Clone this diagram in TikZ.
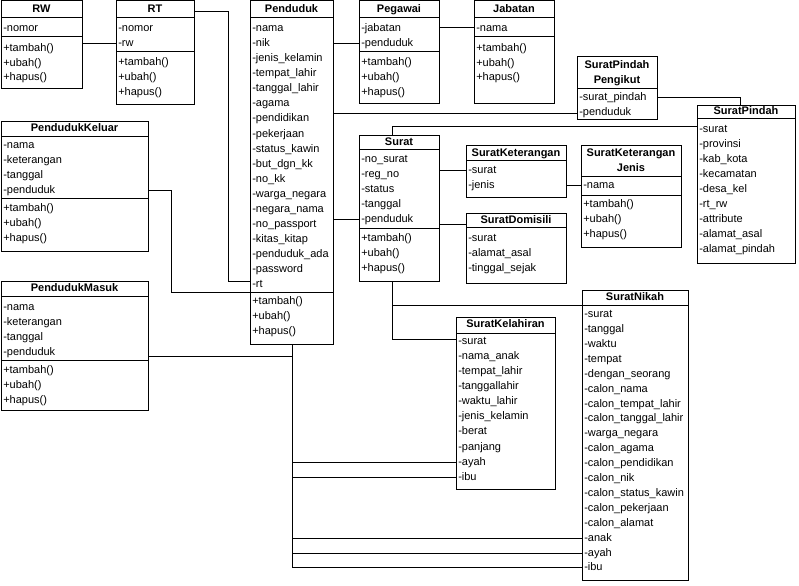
\documentclass[tikz,border=0pt]{standalone}
\usepackage{fontspec}
\setmainfont{Liberation Sans}
\usetikzlibrary{fit}
\tikzset{
  box/.style={draw, line width=0.75pt, inner sep=0pt, fill=white},
  attr/.style={anchor=west, inner sep=0pt, yshift=-0.75pt, text height=6pt, text depth=2pt, font=\fontsize{8.25}{9}\selectfont},
  ttl/.style={inner sep=0pt, yshift=-0.5pt, text height=6pt, text depth=2pt, font=\fontsize{8.25}{9}\selectfont\bfseries},
  sepline/.style={line width=0.75pt},
  conn/.style={line width=0.75pt},
}
\newcommand\umlrows[4]{\foreach \t [count=\i from 0] in {#4}{\node[attr] at (#1,{#2+#3*\i}) {\t};}}
\begin{document}
\begin{tikzpicture}[x=0.75pt,y=-0.75pt]
\useasboundingbox (0,0) rectangle (799,585);
\fill[white] (0,0) rectangle (799,585);

% ---------- boxes ----------
\node[box, fit={(1,1)(82,89)}] (rw) {};
\node[box, fit={(116,1)(194,104)}] (rt) {};
\node[box, fit={(250,1)(333,344)}] (pend) {};
\node[box, fit={(359,1)(439,103)}] (peg) {};
\node[box, fit={(474,1)(554,103)}] (jab) {};
\node[box, fit={(577,57)(657,119)}] (spp) {};
\node[box, fit={(697,105)(795,263)}] (sp) {};
\node[box, fit={(1,121)(148,251)}] (pk) {};
\node[box, fit={(1,281)(148,410)}] (pm) {};
\node[box, fit={(359,135)(439,281)}] (surat) {};
\node[box, fit={(466,145)(566,197)}] (sk) {};
\node[box, fit={(581,145)(681,247)}] (skj) {};
\node[box, fit={(466,213)(566,283)}] (sd) {};
\node[box, fit={(456,317)(555,489)}] (skl) {};
\node[box, fit={(582,290)(688,580)}] (sn) {};

% ---------- separators ----------
\draw[sepline] (1,18) -- (82,18) (1,37) -- (82,37);
\draw[sepline] (116,18) -- (194,18) (116,52) -- (194,52);
\draw[sepline] (250,18) -- (333,18) (250,292) -- (333,292);
\draw[sepline] (359,18) -- (439,18) (359,52) -- (439,52);
\draw[sepline] (474,18) -- (554,18) (474,37) -- (554,37);
\draw[sepline] (577,89) -- (657,89);
\draw[sepline] (697,118) -- (795,118);
\draw[sepline] (1,136) -- (148,136) (1,198) -- (148,198);
\draw[sepline] (1,296) -- (148,296) (1,360) -- (148,360);
\draw[sepline] (359,149) -- (439,149) (359,228) -- (439,228);
\draw[sepline] (466,160) -- (566,160);
\draw[sepline] (581,176) -- (681,176) (581,195) -- (681,195);
\draw[sepline] (466,227) -- (566,227);
\draw[sepline] (456,333) -- (555,333);
\draw[sepline] (582,305) -- (688,305);

% ---------- titles ----------
\node[ttl] at (41.5,9) {RW};
\node[ttl] at (155,9) {RT};
\node[ttl] at (291.5,9) {Penduduk};
\node[ttl] at (399,9) {Pegawai};
\node[ttl] at (514,9) {Jabatan};
\node[ttl] at (617,65) {SuratPindah};
\node[ttl] at (617,80) {Pengikut};
\node[ttl] at (746,111) {SuratPindah};
\node[ttl] at (74.5,128) {PendudukKeluar};
\node[ttl] at (74.5,288) {PendudukMasuk};
\node[ttl] at (399,142) {Surat};
\node[ttl] at (516,153) {SuratKeterangan};
\node[ttl] at (631,153) {SuratKeterangan};
\node[ttl] at (631,168) {Jenis};
\node[ttl] at (516,220) {SuratDomisili};
\node[ttl] at (505.5,324) {SuratKelahiran};
\node[ttl] at (635,297) {SuratNikah};

% ---------- rows ----------
\umlrows{3}{28}{15}{-nomor}
\umlrows{3}{48}{14.6}{+tambah(),+ubah(),+hapus()}
\umlrows{118}{28}{15}{-nomor,-rw}
\umlrows{118}{62}{15}{+tambah(),+ubah(),+hapus()}
\umlrows{252}{28}{15.05}{-nama,-nik,-jenis\_kelamin,-tempat\_lahir,-tanggal\_lahir,-agama,-pendidikan,-pekerjaan,-status\_kawin,-but\_dgn\_kk,-no\_kk,-warga\_negara,-negara\_nama,-no\_passport,-kitas\_kitap,-penduduk\_ada,-password,-rt}
\umlrows{252}{301}{15}{+tambah(),+ubah(),+hapus()}
\umlrows{361}{28}{15}{-jabatan,-penduduk}
\umlrows{361}{62}{15}{+tambah(),+ubah(),+hapus()}
\umlrows{476}{28}{15}{-nama}
\umlrows{476}{48}{14.6}{+tambah(),+ubah(),+hapus()}
\umlrows{579}{97}{15}{-surat\_pindah,-penduduk}
\umlrows{699}{129}{15}{-surat,-provinsi,-kab\_kota,-kecamatan,-desa\_kel,-rt\_rw,-attribute,-alamat\_asal,-alamat\_pindah}
\umlrows{3}{145}{15}{-nama,-keterangan,-tanggal,-penduduk}
\umlrows{3}{208}{15}{+tambah(),+ubah(),+hapus()}
\umlrows{3}{307}{15}{-nama,-keterangan,-tanggal,-penduduk}
\umlrows{3}{370}{15}{+tambah(),+ubah(),+hapus()}
\umlrows{361}{159}{15}{-no\_surat,-reg\_no,-status,-tanggal,-penduduk}
\umlrows{361}{238}{15}{+tambah(),+ubah(),+hapus()}
\umlrows{468}{170}{15}{-surat,-jenis}
\umlrows{583}{185}{15}{-nama}
\umlrows{583}{204}{15}{+tambah(),+ubah(),+hapus()}
\umlrows{468}{238}{15}{-surat,-alamat\_asal,-tinggal\_sejak}
\umlrows{458}{341}{15.05}{-surat,-nama\_anak,-tempat\_lahir,-tanggallahir,-waktu\_lahir,-jenis\_kelamin,-berat,-panjang,-ayah,-ibu}
\umlrows{584}{314}{14.9}{-surat,-tanggal,-waktu,-tempat,-dengan\_seorang,-calon\_nama,-calon\_tempat\_lahir,-calon\_tanggal\_lahir,-warga\_negara,-calon\_agama,-calon\_pendidikan,-calon\_nik,-calon\_status\_kawin,-calon\_pekerjaan,-calon\_alamat,-anak,-ayah,-ibu}

% ---------- connectors ----------
\draw[conn] (rw.east |- 0,44) -- (rt.west |- 0,44);
\coordinate (c1) at (228,12);
\draw[conn] (rt.east |- c1) -- (c1) |- (pend.west |- 0,281);
\coordinate (c2) at (171,190);
\draw[conn] (pk.east |- c2) -- (c2) |- (pend.west |- 0,292);
\coordinate (c3) at (292,356);
\draw[conn] (pm.east |- c3) -- (c3) -- (pend.south -| c3);
\foreach \yy in {462,477} \draw[conn] (c3) |- (skl.west |- 0,\yy);
\foreach \yy in {538,553,567} \draw[conn] (c3) |- (sn.west |- 0,\yy);
\draw[conn] (pend.east |- 0,44) -- (peg.west |- 0,44);
\draw[conn] (peg.east |- 0,28) -- (jab.west |- 0,28);
\draw[conn] (pend.east |- 0,113) -- (spp.west |- 0,113);
\coordinate (c4) at (740,97);
\draw[conn] (spp.east |- c4) -- (c4) -- (sp.north -| c4);
\coordinate (c5) at (392,126);
\draw[conn] (surat.north -| c5) -- (c5) -- (sp.west |- c5);
\draw[conn] (pend.east |- 0,219) -- (surat.west |- 0,219);
\draw[conn] (surat.east |- 0,170) -- (sk.west |- 0,170);
\draw[conn] (surat.east |- 0,224) -- (sd.west |- 0,224);
\draw[conn] (sk.east |- 0,185) -- (skj.west |- 0,185);
\coordinate (c6) at (392,305);
\draw[conn] (surat.south -| c6) -- (c6) -- (sn.west |- c6);
\draw[conn] (c6) |- (skl.west |- 0,339);
\end{tikzpicture}
\end{document}
